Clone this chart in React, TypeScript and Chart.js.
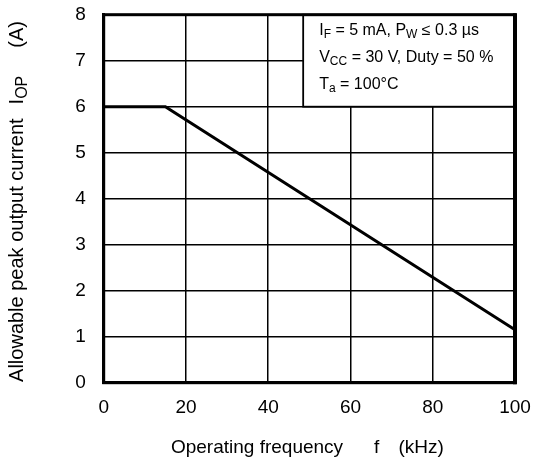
import React, { useEffect, useRef } from "react";
import { Chart, registerables } from "chart.js";

Chart.register(...registerables);

const frequencyKHz = [0, 15, 100];
const peakCurrentA = [6, 6, 1.15];
const xTicks = [0, 20, 40, 60, 80, 100];
const yTicks = [0, 1, 2, 3, 4, 5, 6, 7, 8];
const legendBoxX = [48.5, 100];
const legendBoxY = [6, 8];

type Seg = { t: string; sub?: boolean; gap?: number };
const legendLines: Seg[][] = [
  [{ t: "I" }, { t: "F", sub: true }, { t: " = 5 mA, P" }, { t: "W", sub: true }, { t: " ≤ 0.3 µs" }],
  [{ t: "V" }, { t: "CC", sub: true }, { t: " = 30 V, Duty = 50 %" }],
  [{ t: "T" }, { t: "a", sub: true }, { t: " = 100°C" }],
];
const xTitle: Seg[] = [{ t: "Operating frequency" }, { t: "f", gap: 31 }, { t: "(kHz)", gap: 19 }];
const yTitle: Seg[] = [
  { t: "Allowable peak output current" },
  { t: "I", gap: 14 },
  { t: "OP", sub: true },
  { t: "(A)", gap: 28 },
];

const FONT = "'Liberation Sans', Arial, sans-serif";

function segWidth(ctx: CanvasRenderingContext2D, segs: Seg[], size: number) {
  let w = 0;
  for (const s of segs) {
    ctx.font = `${s.sub ? Math.round(size * 0.78) : size}px ${FONT}`;
    w += ctx.measureText(s.t).width + (s.gap || 0);
  }
  return w;
}

function drawSegs(ctx: CanvasRenderingContext2D, segs: Seg[], x: number, y: number, size: number) {
  let cx = x;
  ctx.textBaseline = "middle";
  ctx.textAlign = "left";
  for (const s of segs) {
    const sz = s.sub ? Math.round(size * 0.78) : size;
    ctx.font = `${sz}px ${FONT}`;
    cx += s.gap || 0;
    ctx.fillText(s.t, cx, s.sub ? y + size * 0.28 : y);
    cx += ctx.measureText(s.t).width;
  }
}

const overlayPlugin = {
  id: "overlay",
  afterDatasetsDraw(chart: any) {
    const ctx: CanvasRenderingContext2D = chart.ctx;
    const xs = chart.scales.x;
    const ys = chart.scales.y;
    const area = chart.chartArea;
    ctx.save();
    // legend box
    const bx0 = xs.getPixelForValue(legendBoxX[0]);
    const bx1 = xs.getPixelForValue(legendBoxX[1]);
    const by0 = ys.getPixelForValue(legendBoxY[1]);
    const by1 = ys.getPixelForValue(legendBoxY[0]);
    ctx.fillStyle = "#fff";
    ctx.fillRect(bx0, by0, bx1 - bx0, by1 - by0);
    ctx.strokeStyle = "#000";
    ctx.lineWidth = 1.8;
    ctx.strokeRect(bx0, by0, bx1 - bx0, by1 - by0);
    ctx.fillStyle = "#000";
    legendLines.forEach((line, i) => {
      drawSegs(ctx, line, bx0 + 16, by0 + 16 + i * 26.7, 16);
    });
    // frame
    ctx.lineWidth = 3;
    ctx.strokeRect(area.left, area.top, area.right - area.left, area.bottom - area.top);
    ctx.lineWidth = 4;
    ctx.beginPath();
    ctx.moveTo(area.right, area.top - 1.5);
    ctx.lineTo(area.right, area.bottom + 1.5);
    ctx.stroke();
    // titles
    const xw = segWidth(ctx, xTitle, 19);
    drawSegs(ctx, xTitle, (area.left + area.right) / 2 - 2 - xw / 2, 448, 19);
    ctx.translate(17, 201.5);
    ctx.rotate(-Math.PI / 2);
    const yw = segWidth(ctx, yTitle, 20);
    drawSegs(ctx, yTitle, -yw / 2, 0, 20);
    ctx.restore();
  },
};

export default function App() {
  const ref = useRef<HTMLCanvasElement | null>(null);
  useEffect(() => {
    if (!ref.current) return;
    const zeroPad = (s: any) => {
      s.paddingTop = 0;
      s.paddingBottom = 0;
      s.paddingLeft = 0;
      s.paddingRight = 0;
    };
    const chart = new Chart(ref.current, {
      type: "line",
      data: {
        datasets: [
          {
            data: frequencyKHz.map((f, i) => ({ x: f, y: peakCurrentA[i] })),
            borderColor: "#000",
            borderWidth: 3,
            pointRadius: 0,
            fill: false,
            tension: 0,
          },
        ],
      },
      options: {
        animation: false,
        responsive: true,
        maintainAspectRatio: false,
        layout: { padding: { left: 0, top: 14.7, right: 19, bottom: 0 } },
        plugins: { legend: { display: false }, tooltip: { enabled: false } },
        scales: {
          x: {
            type: "linear",
            min: 0,
            max: 100,
            afterBuildTicks: (s: any) => {
              s.ticks = xTicks.map((v) => ({ value: v }));
            },
            afterFit: (s: any) => {
              s.height = 78.3;
              zeroPad(s);
            },
            grid: { color: "#000", lineWidth: 1.5, drawTicks: false },
            border: { color: "#000", width: 3 },
            ticks: { color: "#000", padding: 14, font: { size: 19, family: FONT } },
          },
          y: {
            type: "linear",
            min: 0,
            max: 8,
            afterBuildTicks: (s: any) => {
              s.ticks = yTicks.map((v) => ({ value: v }));
            },
            afterFit: (s: any) => {
              s.width = 103.7;
              zeroPad(s);
            },
            grid: { color: "#000", lineWidth: 1.5, drawTicks: false },
            border: { color: "#000", width: 3 },
            ticks: { color: "#000", padding: 18, font: { size: 19, family: FONT } },
          },
        },
      },
      plugins: [overlayPlugin],
    });
    return () => chart.destroy();
  }, []);
  return (
    <div style={{ position: "fixed", left: 0, top: 0, width: 534, height: 461, background: "#fff" }}>
      <canvas ref={ref} />
    </div>
  );
}
